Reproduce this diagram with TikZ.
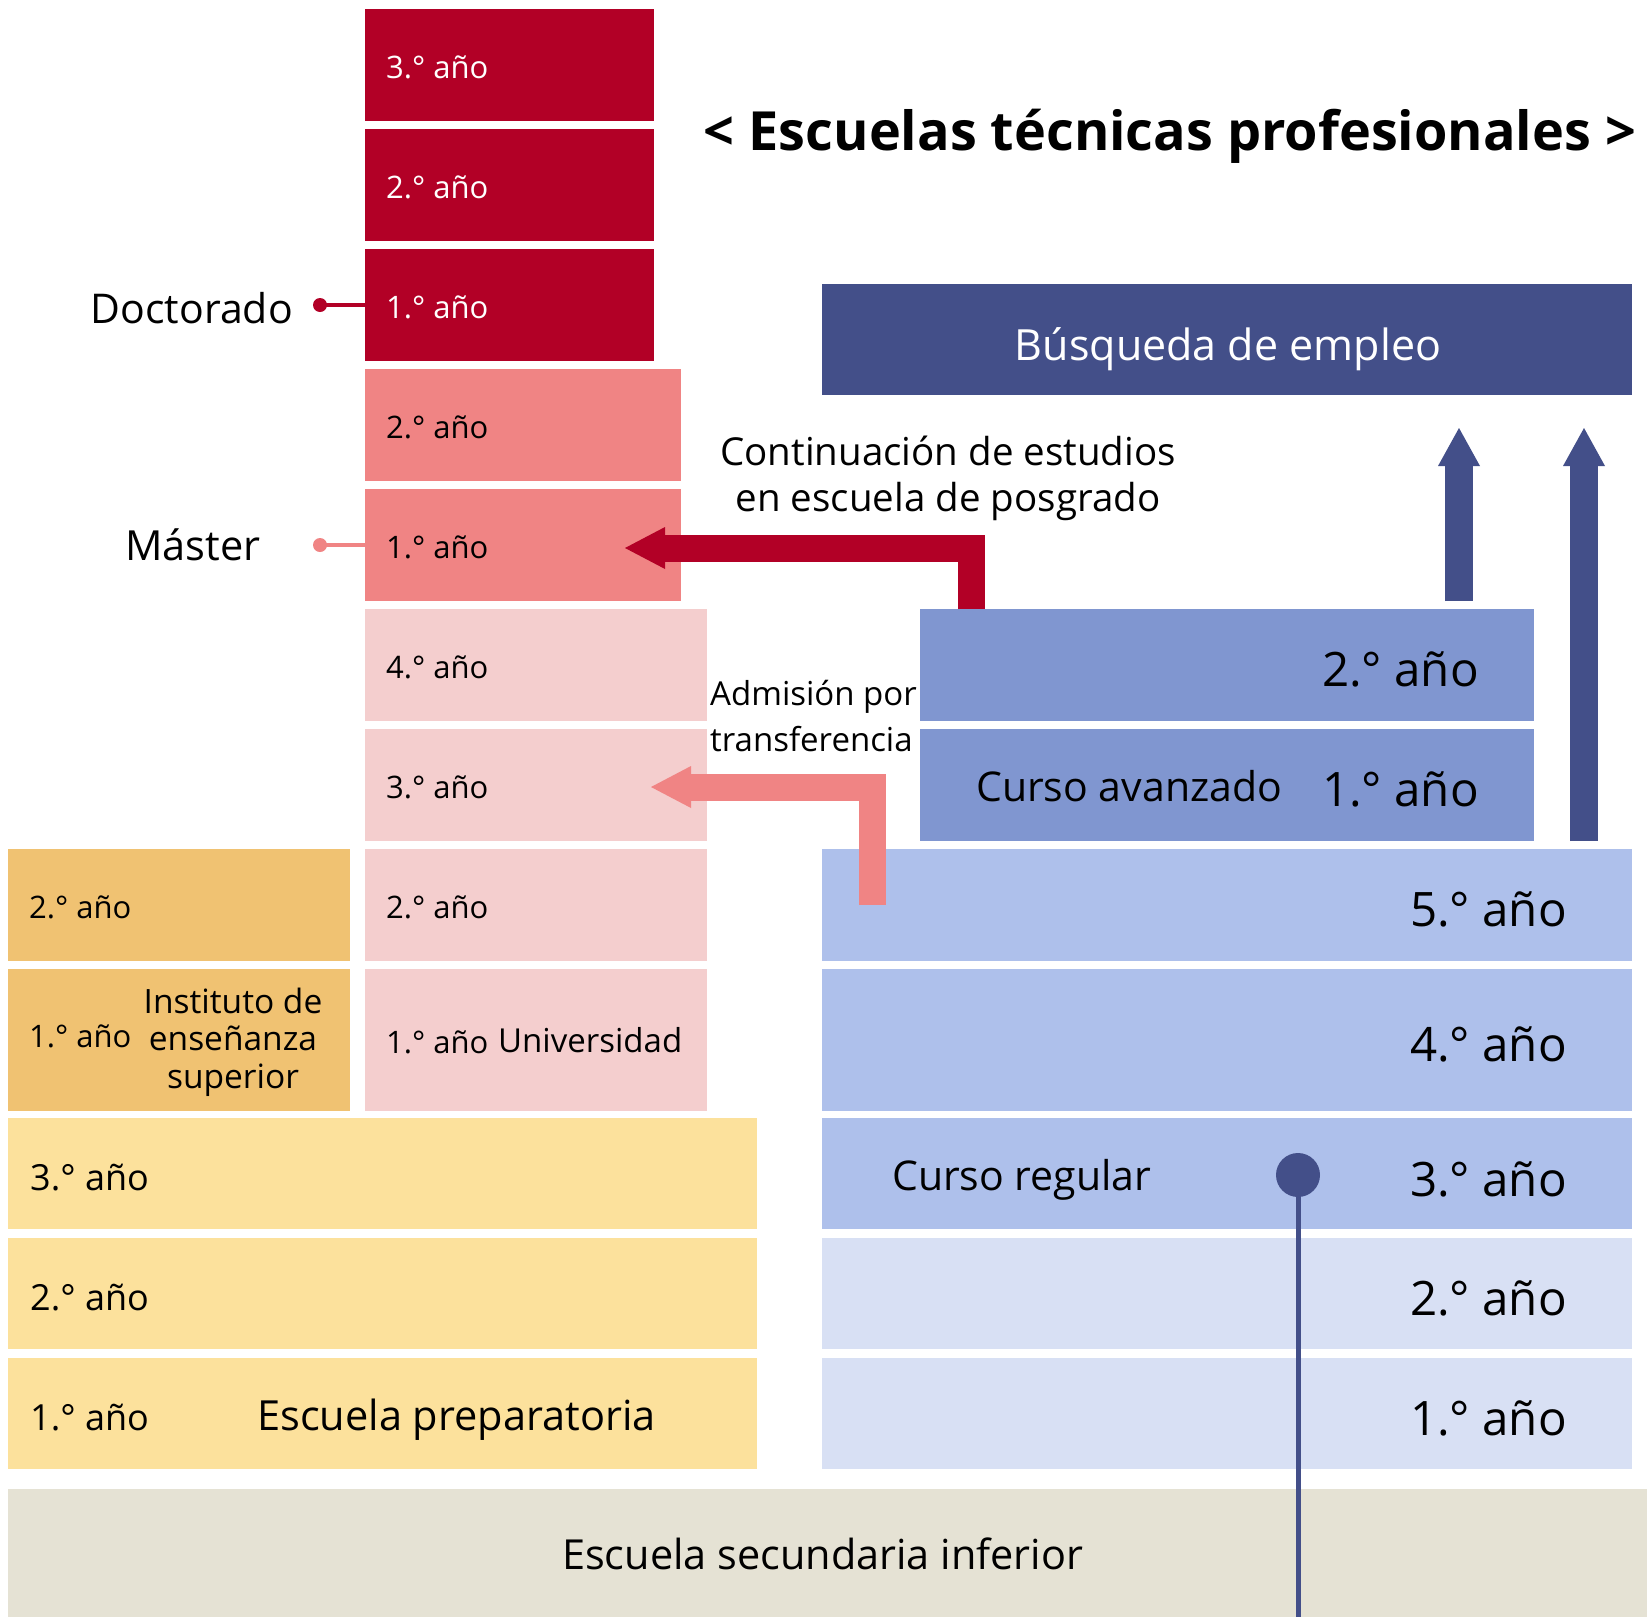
\documentclass[tikz,border=0pt]{standalone}
\usepackage{fontspec}
\setmainfont{Open Sans}
\usetikzlibrary{arrows.meta,positioning}

\definecolor{docred}{RGB}{178,0,38}
\definecolor{mastpink}{RGB}{240,132,132}
\definecolor{unipink}{RGB}{244,206,206}
\definecolor{juncol}{RGB}{240,194,114}
\definecolor{prepyel}{RGB}{252,225,156}
\definecolor{lowgray}{RGB}{229,226,212}
\definecolor{navy}{RGB}{67,79,137}
\definecolor{advblue}{RGB}{128,150,208}
\definecolor{regblue}{RGB}{174,192,235}
\definecolor{lowblue}{RGB}{216,224,244}

\newcommand\fsz[2]{\fontsize{#1}{#2}\selectfont}

\tikzset{
  yearbox/.style={fill=#1, anchor=north west, inner sep=0pt, outer sep=0pt},
  ylabel/.style={anchor=base west, inner sep=0pt, font=\fsz{31}{37}},
  midyear/.style={anchor=base west, inner sep=0pt, font=\fsz{36}{43}},
  bigyear/.style={anchor=base east, inner sep=0pt, font=\fsz{47.5}{56}},
  schoollabel/.style={inner sep=0pt, font=\fsz{41}{49}},
  flowarrow/.style={line width=27pt, -{Triangle[width=42pt,length=40pt,line width=0pt]}},
  exitarrow/.style={navy, line width=28pt, -{Triangle[width=42pt,length=38pt,line width=0pt]}},
}

\begin{document}
\begin{tikzpicture}[x=1pt,y=-1pt]
    \useasboundingbox (0,0) rectangle (1647,1617);

    % Title
    \node[anchor=base, inner sep=0pt, font=\fsz{54}{64}\bfseries] (title) at (1170,150) {< Escuelas técnicas profesionales >};

    % Doctorado
    \node[yearbox=docred, minimum width=289, minimum height=112] (doc3) at (365,9) {};
    \node[yearbox=docred, minimum width=289, minimum height=112] (doc2) at (365,129) {};
    \node[yearbox=docred, minimum width=289, minimum height=112] (doc1) at (365,249) {};
    \node[ylabel, text=white] at (386,78) {3.° año};
    \node[ylabel, text=white] at (386,198) {2.° año};
    \node[ylabel, text=white] at (386,318) {1.° año};
    \node[schoollabel, anchor=base east] (doclbl) at (293,323) {Doctorado};
    \node[circle, fill=docred, minimum size=14, inner sep=0pt] (docdot) at (320,305) {};
    \draw[docred, line width=4pt] (docdot.center) -- (doc1.west);

    % Master
    \node[yearbox=mastpink, minimum width=316, minimum height=112] (mas2) at (365,369) {};
    \node[yearbox=mastpink, minimum width=316, minimum height=112] (mas1) at (365,489) {};
    \node[ylabel] at (386,438) {2.° año};
    \node[ylabel] at (386,558) {1.° año};
    \node[schoollabel, anchor=base, font=\fsz{41.5}{49}] (maslbl) at (193,560) {Máster};
    \node[circle, fill=mastpink, minimum size=14, inner sep=0pt] (masdot) at (320,545) {};
    \draw[mastpink, line width=4pt] (masdot.center) -- (mas1.west);

    % Universidad
    \node[yearbox=unipink, minimum width=342, minimum height=112] (uni4) at (365,609) {};
    \node[yearbox=unipink, minimum width=342, minimum height=112] (uni3) at (365,729) {};
    \node[yearbox=unipink, minimum width=342, minimum height=112] (uni2) at (365,849) {};
    \node[yearbox=unipink, minimum width=342, minimum height=142] (uni1) at (365,969) {};
    \node[ylabel] at (386,678) {4.° año};
    \node[ylabel] at (386,798) {3.° año};
    \node[ylabel] at (386,918) {2.° año};
    \node[ylabel] at (386,1053) {1.° año};
    \node[anchor=base west, inner sep=0pt, font=\fsz{33}{39}] (unilbl) at (498,1052) {Universidad};

    % Instituto de enseñanza superior
    \node[yearbox=juncol, minimum width=342, minimum height=112] (jun2) at (8,849) {};
    \node[yearbox=juncol, minimum width=342, minimum height=142] (jun1) at (8,969) {};
    \node[ylabel] at (29,918) {2.° año};
    \node[ylabel] at (29,1047) {1.° año};
    \node[anchor=base, inner sep=0pt, align=center, font=\fsz{33.5}{37.5}] (junlbl) at (233,1088) {Instituto de\\enseñanza\\superior};

    % Escuela preparatoria
    \node[yearbox=prepyel, minimum width=749, minimum height=111] (prep3) at (8,1118) {};
    \node[yearbox=prepyel, minimum width=749, minimum height=111] (prep2) at (8,1238) {};
    \node[yearbox=prepyel, minimum width=749, minimum height=111] (prep1) at (8,1358) {};
    \node[midyear] at (30,1190) {3.° año};
    \node[midyear] at (30,1310) {2.° año};
    \node[midyear] at (30,1430) {1.° año};
    \node[schoollabel, anchor=base west, font=\fsz{41.5}{49}] (preplbl) at (257,1430) {Escuela preparatoria};

    % Escuela secundaria inferior
    \node[yearbox=lowgray, minimum width=1639, minimum height=128] (low) at (8,1489) {};
    \node[anchor=base west, inner sep=0pt, font=\fsz{41.4}{49}] (lowlbl) at (562,1569) {Escuela secundaria inferior};

    % Curso regular
    \node[yearbox=regblue, minimum width=810, minimum height=112] (reg5) at (822,849) {};
    \node[yearbox=regblue, minimum width=810, minimum height=142] (reg4) at (822,969) {};
    \node[yearbox=regblue, minimum width=810, minimum height=111] (reg3) at (822,1118) {};
    \node[yearbox=lowblue, minimum width=810, minimum height=111] (reg2) at (822,1238) {};
    \node[yearbox=lowblue, minimum width=810, minimum height=111] (reg1) at (822,1358) {};
    \node[bigyear] at (1567,926) {5.° año};
    \node[bigyear] at (1567,1061) {4.° año};
    \node[bigyear] at (1567,1196) {3.° año};
    \node[bigyear] at (1567,1315) {2.° año};
    \node[bigyear] at (1567,1435) {1.° año};
    \node[schoollabel, anchor=base west] (reglbl) at (892,1190) {Curso regular};
    \node[circle, fill=navy, minimum size=44, inner sep=0pt] (regdot) at (1298,1175) {};
    \draw[navy, line width=5pt] (regdot.center) -- (regdot |- low.south);

    % Curso avanzado
    \node[yearbox=advblue, minimum width=614, minimum height=112] (adv2) at (920,609) {};
    \node[yearbox=advblue, minimum width=614, minimum height=112] (adv1) at (920,729) {};
    \node[bigyear] at (1479,686) {2.° año};
    \node[bigyear] at (1479,806) {1.° año};
    \node[schoollabel, anchor=base west] (advlbl) at (976,801) {Curso avanzado};

    % Busqueda de empleo
    \node[yearbox=navy, minimum width=810, minimum height=111] (job) at (822,284) {};
    \node[anchor=base, inner sep=0pt, text=white, font=\fsz{43}{51}] (joblbl) at (1228,360) {Búsqueda de empleo};
    \coordinate (exitA) at (1459,428);
    \coordinate (exitB) at (1584,428);
    \draw[exitarrow] ([yshift=8pt]adv2.north -| exitA) -- (exitA);
    \draw[exitarrow] ([yshift=8pt]reg5.north -| exitB) -- (exitB);

    % Continuacion en posgrado
    \coordinate (contbend) at (971,548);
    \coordinate (conttip) at (625,548);
    \draw[flowarrow, docred] (contbend |- adv2.north) -- (contbend) -- (conttip);
    \node[anchor=base, inner sep=0pt, align=center, font=\fsz{38.5}{46.7}] (contlbl) at (948,511.7) {Continuación de estudios\\en escuela de posgrado};

    % Admision por transferencia
    \coordinate (admbend) at (872.5,787);
    \coordinate (admtip) at (651,787);
    \draw[flowarrow, mastpink] (admbend |- reg5.center) -- (admbend) -- (admtip);
    \node[anchor=base west, inner sep=0pt, align=left, font=\fsz{33}{46.7}] (admlbl) at (710,751.7) {Admisión por\\transferencia};

\end{tikzpicture}
\end{document}
